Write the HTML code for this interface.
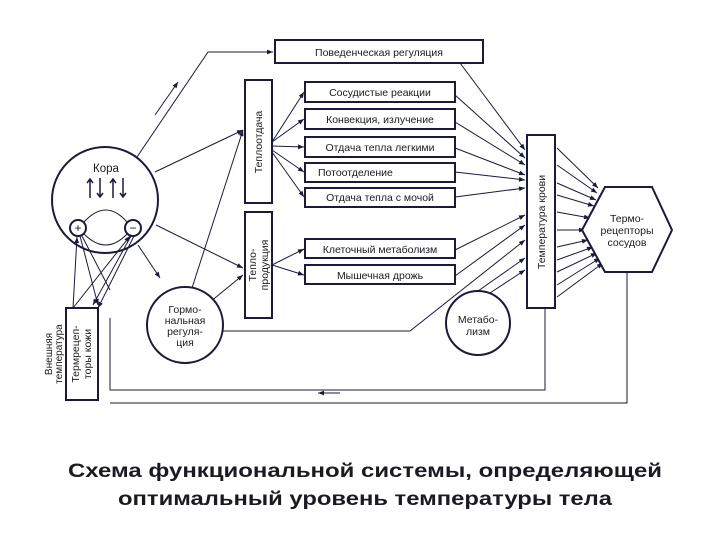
<!DOCTYPE html>
<html><head><meta charset="utf-8"><style>
html,body{margin:0;padding:0;background:#fff;width:720px;height:540px;overflow:hidden}
svg{display:block}
text{font-family:"Liberation Sans",sans-serif;fill:#1a1a22}
</style></head><body>
<svg width="720" height="540" viewBox="0 0 720 540" xmlns="http://www.w3.org/2000/svg">
<defs>
<marker id="a" viewBox="0 0 10 10" refX="10" refY="5" markerWidth="7" markerHeight="6" orient="auto-start-reverse"><path d="M0,1 L10,5 L0,9 z" fill="#1a1a3a"/></marker>
</defs>
<g stroke="#1a1a3a" fill="none" stroke-width="1">
<polyline points="137,157 208,52 273,52" marker-end="url(#a)"/>
<line x1="155" y1="115" x2="178" y2="82" marker-end="url(#a)"/>
<line x1="155" y1="172" x2="243" y2="130" marker-end="url(#a)"/>
<line x1="156" y1="225" x2="243" y2="268" marker-end="url(#a)"/>
<line x1="138" y1="245" x2="160" y2="278" marker-end="url(#a)"/>
<line x1="192" y1="288" x2="243" y2="130" marker-end="url(#a)"/>
<line x1="210" y1="302" x2="243" y2="275" marker-end="url(#a)"/>
<polyline points="222,331 410,331 525,240" marker-end="url(#a)"/>
<line x1="272" y1="142" x2="304" y2="92" marker-end="url(#a)"/>
<line x1="272" y1="142" x2="304" y2="119" marker-end="url(#a)"/>
<line x1="272" y1="146" x2="304" y2="147" marker-end="url(#a)"/>
<line x1="272" y1="150" x2="304" y2="172" marker-end="url(#a)"/>
<line x1="272" y1="152" x2="304" y2="197" marker-end="url(#a)"/>
<line x1="272" y1="265" x2="304" y2="249" marker-end="url(#a)"/>
<line x1="272" y1="265" x2="304" y2="275" marker-end="url(#a)"/>
<line x1="460" y1="63" x2="525" y2="150" marker-end="url(#a)"/>
<line x1="455" y1="95" x2="525" y2="158" marker-end="url(#a)"/>
<line x1="455" y1="122" x2="525" y2="165" marker-end="url(#a)"/>
<line x1="455" y1="148" x2="525" y2="175" marker-end="url(#a)"/>
<line x1="455" y1="172" x2="525" y2="180" marker-end="url(#a)"/>
<line x1="455" y1="197" x2="525" y2="188" marker-end="url(#a)"/>
<line x1="455" y1="250" x2="525" y2="215" marker-end="url(#a)"/>
<line x1="455" y1="276" x2="525" y2="225" marker-end="url(#a)"/>
<line x1="478" y1="291" x2="525" y2="258" marker-end="url(#a)"/>
<line x1="490" y1="293" x2="525" y2="270" marker-end="url(#a)"/>
<line x1="557" y1="148" x2="598" y2="188" marker-end="url(#a)"/>
<line x1="557" y1="165" x2="597" y2="193" marker-end="url(#a)"/>
<line x1="557" y1="183" x2="596" y2="200" marker-end="url(#a)"/>
<line x1="557" y1="195" x2="594" y2="206" marker-end="url(#a)"/>
<line x1="557" y1="212" x2="590" y2="218" marker-end="url(#a)"/>
<line x1="557" y1="230" x2="585" y2="230" marker-end="url(#a)"/>
<line x1="557" y1="247" x2="588" y2="240" marker-end="url(#a)"/>
<line x1="557" y1="260" x2="593" y2="247" marker-end="url(#a)"/>
<line x1="557" y1="272" x2="597" y2="253" marker-end="url(#a)"/>
<line x1="557" y1="285" x2="600" y2="258" marker-end="url(#a)"/>
<line x1="557" y1="297" x2="603" y2="263" marker-end="url(#a)"/>
<polyline points="545,308 545,390 110,390 110,318"/>
<polyline points="627,272 627,403 110,403"/>
<line x1="340" y1="393" x2="318" y2="393" marker-end="url(#a)"/>
<line x1="73" y1="308" x2="77" y2="237" marker-end="url(#a)"/>
<line x1="73" y1="308" x2="130" y2="236" marker-end="url(#a)"/>
<line x1="80" y1="236" x2="98" y2="305" marker-end="url(#a)"/>
<line x1="131" y1="236" x2="93" y2="305" marker-end="url(#a)"/>
<line x1="134" y1="236" x2="98" y2="308" marker-end="url(#a)"/>
<line x1="82" y1="236" x2="110" y2="290"/>
<path d="M84,222 Q106,198 127,222"/>
<path d="M84,234 Q106,256 127,234"/>
</g>
<g stroke="#1a1a3a" stroke-width="1.5" fill="none">
<path d="M90,198 v-18 M87,183 l3,-4 l3,4"/>
<path d="M100,178 v18 M97,193 l3,4 l3,-4"/>
<path d="M113,198 v-18 M110,183 l3,-4 l3,4"/>
<path d="M123,178 v18 M120,193 l3,4 l3,-4"/>
</g>
<g stroke="#1a1a3a" stroke-width="2" fill="#fff">
<circle cx="105" cy="200" r="53" fill="none"/>
<circle cx="78" cy="228" r="8"/>
<circle cx="133" cy="228" r="8"/>
<circle cx="185" cy="325" r="38"/>
<circle cx="478" cy="323" r="32"/>
<rect x="275" y="40" width="208" height="23"/>
<rect x="245" y="80" width="27" height="123"/>
<rect x="245" y="212" width="27" height="106"/>
<rect x="305" y="82" width="150" height="20"/>
<rect x="305" y="109" width="150" height="20"/>
<rect x="305" y="137" width="150" height="20"/>
<rect x="305" y="163" width="150" height="19"/>
<rect x="305" y="188" width="150" height="19"/>
<rect x="305" y="239" width="150" height="19"/>
<rect x="305" y="265" width="150" height="19"/>
<rect x="527" y="135" width="28" height="173"/>
<rect x="66" y="308" width="32" height="92"/>
<polygon points="582,230 605,187 652,187 672,230 652,272 605,272"/>
</g>
<g font-size="11">
<text x="106" y="172" text-anchor="middle" font-size="11.5">Кора</text>
<text x="78" y="232" text-anchor="middle" font-size="12">+</text>
<text x="133" y="232" text-anchor="middle" font-size="12">−</text>
<text x="379" y="56" text-anchor="middle" font-size="10.5">Поведенческая регуляция</text>
<text x="380" y="96" text-anchor="middle" font-size="10.5">Сосудистые реакции</text>
<text x="380" y="123" text-anchor="middle" font-size="10.5">Конвекция, излучение</text>
<text x="380" y="151" text-anchor="middle" font-size="10.5">Отдача тепла легкими</text>
<text x="318" y="176" font-size="10.5">Потоотделение</text>
<text x="380" y="201" text-anchor="middle" font-size="10.5">Отдача тепла с мочой</text>
<text x="380" y="253" text-anchor="middle" font-size="10.5">Клеточный метаболизм</text>
<text x="380" y="279" text-anchor="middle" font-size="10.5">Мышечная дрожь</text>
<text transform="translate(262,142) rotate(-90)" text-anchor="middle" font-size="10.5">Теплоотдача</text>
<text transform="translate(256,265) rotate(-90)" text-anchor="middle" font-size="10.5">Тепло-</text>
<text transform="translate(268,265) rotate(-90)" text-anchor="middle" font-size="10.5">продукция</text>
<text transform="translate(545,222) rotate(-90)" text-anchor="middle" font-size="10.5">Температура крови</text>
<text x="627" y="222" text-anchor="middle" font-size="10.5">Термо-</text>
<text x="627" y="234" text-anchor="middle" font-size="10.5">рецепторы</text>
<text x="627" y="246" text-anchor="middle" font-size="10.5">сосудов</text>
<text x="185" y="313" text-anchor="middle" font-size="10.5">Гормо-</text>
<text x="185" y="324" text-anchor="middle" font-size="10.5">нальная</text>
<text x="185" y="335" text-anchor="middle" font-size="10.5">регуля-</text>
<text x="185" y="346" text-anchor="middle" font-size="10.5">ция</text>
<text x="478" y="323" text-anchor="middle" font-size="10.5">Метабо-</text>
<text x="478" y="335" text-anchor="middle" font-size="10.5">лизм</text>
<text transform="translate(79,354) rotate(-90)" text-anchor="middle" font-size="10.5">Термрецеп-</text>
<text transform="translate(91,354) rotate(-90)" text-anchor="middle" font-size="10.5">торы кожи</text>
<text transform="translate(52,354) rotate(-90)" text-anchor="middle" font-size="10" fill="#555">Внешняя</text>
<text transform="translate(62,354) rotate(-90)" text-anchor="middle" font-size="10" fill="#555">температура</text>
</g>
<text x="365" y="477" text-anchor="middle" font-size="19" font-weight="bold" textLength="594" lengthAdjust="spacingAndGlyphs">Схема функциональной системы, определяющей</text>
<text x="365" y="505" text-anchor="middle" font-size="19" font-weight="bold" textLength="494" lengthAdjust="spacingAndGlyphs">оптимальный уровень температуры тела</text>
</svg>
</body></html>
